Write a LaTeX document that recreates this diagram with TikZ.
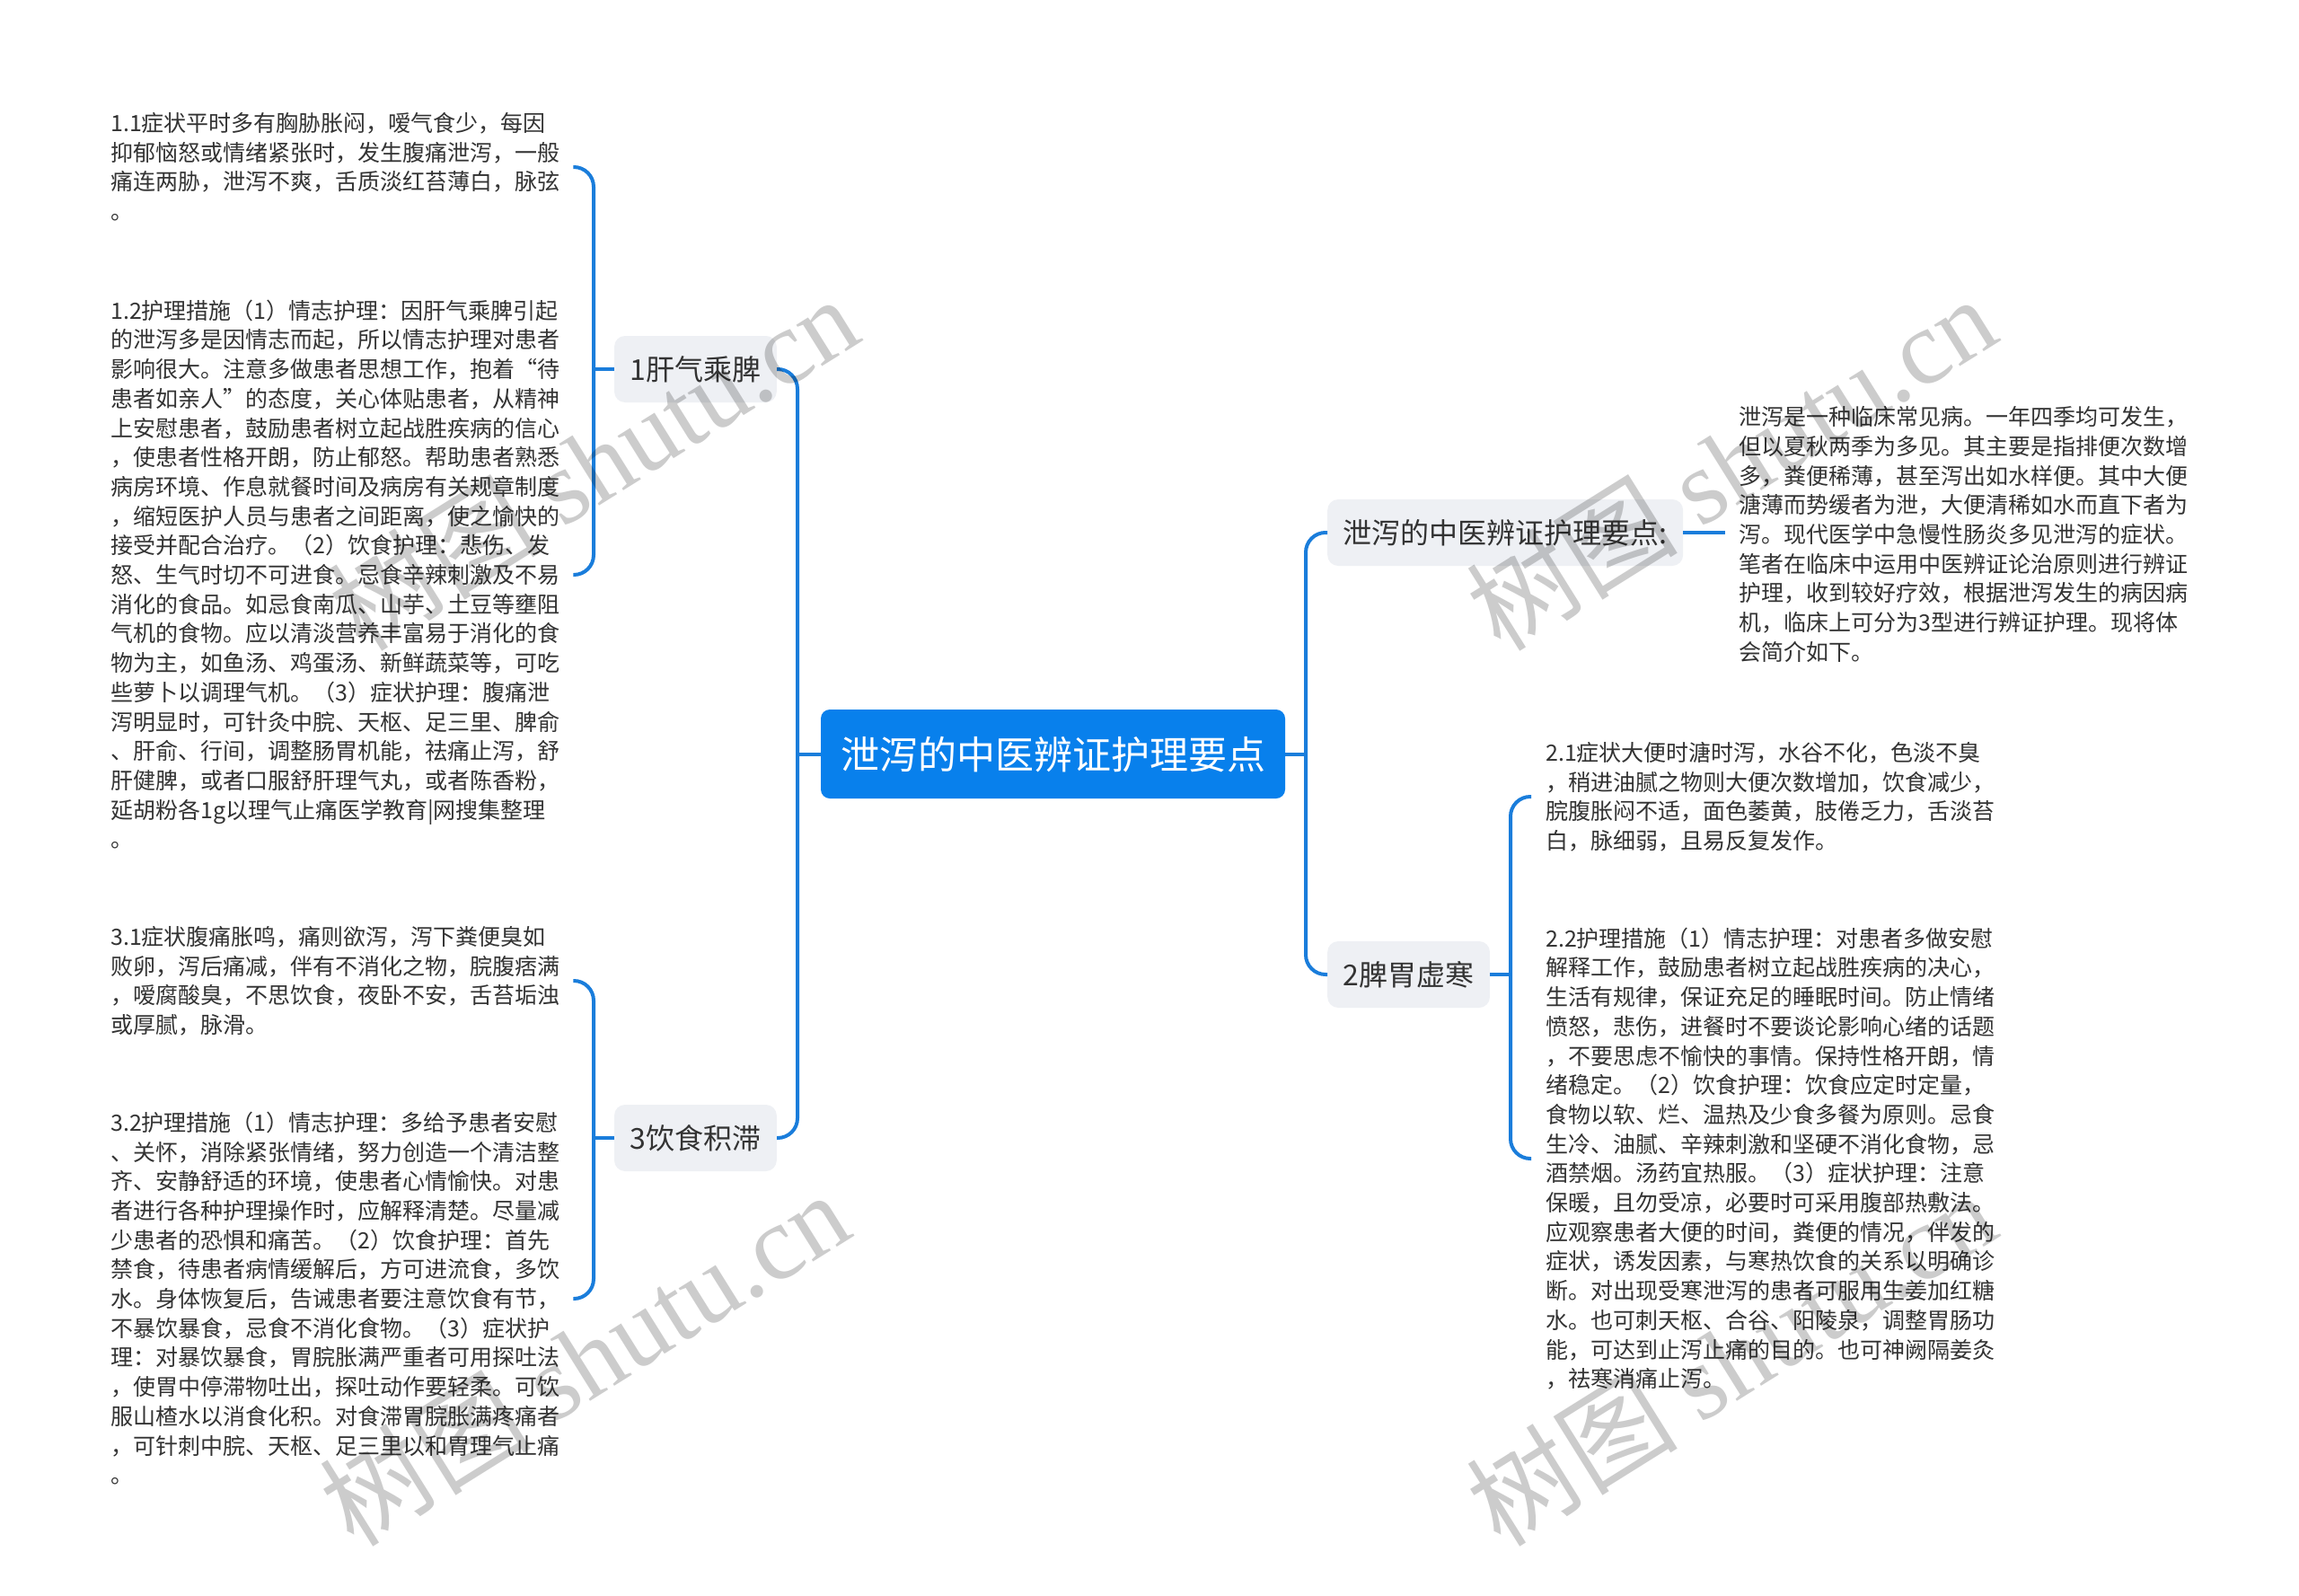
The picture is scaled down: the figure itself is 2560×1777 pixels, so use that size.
\documentclass[tikz,border=0pt]{standalone}
\usepackage{fontspec}
\setmainfont{Noto Sans CJK SC}
\newfontfamily\wmserif{Liberation Serif}
\definecolor{rootblue}{HTML}{0880EC}
\definecolor{linkblue}{HTML}{1A7DDB}
\definecolor{topicfill}{HTML}{EEF0F4}
\definecolor{textgrey}{HTML}{333333}
\newcommand\ls{\rule[-4pt]{0pt}{27pt}}
\begin{document}
\begin{tikzpicture}[x=1pt,y=-1pt,
  conn/.style={draw=linkblue, line width=4pt, rounded corners=22pt},
  rootnode/.style={fill=rootblue, rounded corners=10pt, text=white,
    font=\fontsize{43}{50}\selectfont, minimum width=517pt, minimum height=99pt,
    inner sep=0pt, text height=38pt, text depth=5pt},
  topic/.style={fill=topicfill, rounded corners=12pt, text=textgrey,
    font=\fontsize{32}{38}\selectfont, minimum width=180pt, minimum height=74pt,
    inner xsep=17.5pt, inner ysep=0pt, text height=28pt, text depth=4pt},
  tblock/.style={anchor=west, align=left, inner sep=0pt, text=textgrey,
    font=\fontsize{25}{32.7}\selectfont},
  wm/.style={text=black, text opacity=0.2, inner sep=0pt,
    font=\fontsize{118}{130}\selectfont, rotate=32}
]
\fill[white] (0,0) rectangle (2560,1777);
\useasboundingbox (0,0) rectangle (2560,1777);

% spine coordinates
\coordinate (s1) at (661,411);
\coordinate (s3) at (661,1267);
\coordinate (sL) at (888,840);
\coordinate (sR) at (1454,840);
\coordinate (s2) at (1682,1085);

% main nodes
\node[rootnode] (root) at (1172.5,839.5) {泄泻的中医辨证护理要点};
\node[topic, anchor=east] (t1) at (865,411) {1肝气乘脾};
\node[topic, anchor=east] (t3) at (865,1267) {3饮食积滞};
\node[topic, anchor=west] (tI) at (1478,593) {泄泻的中医辨证护理要点:};
\node[topic, anchor=west] (t2) at (1478,1085) {2脾胃虚寒};

% text blocks
\node[tblock] (b11) at (123,186) {\ls 1.1症状平时多有胸胁胀闷，嗳气食少，每因\\
抑郁恼怒或情绪紧张时，发生腹痛泄泻，一般\\
痛连两胁，泄泻不爽，舌质淡红苔薄白，脉弦\\
\ls 。};

\node[tblock] (b12) at (123,640) {\ls 1.2护理措施（1）情志护理：因肝气乘脾引起\\
的泄泻多是因情志而起，所以情志护理对患者\\
影响很大。注意多做患者思想工作，抱着“待\\
患者如亲人”的态度，关心体贴患者，从精神\\
上安慰患者，鼓励患者树立起战胜疾病的信心\\
，使患者性格开朗，防止郁怒。帮助患者熟悉\\
病房环境、作息就餐时间及病房有关规章制度\\
，缩短医护人员与患者之间距离，使之愉快的\\
接受并配合治疗。（2）饮食护理：悲伤、发\\
怒、生气时切不可进食。忌食辛辣刺激及不易\\
消化的食品。如忌食南瓜、山芋、土豆等壅阻\\
气机的食物。应以清淡营养丰富易于消化的食\\
物为主，如鱼汤、鸡蛋汤、新鲜蔬菜等，可吃\\
些萝卜以调理气机。（3）症状护理：腹痛泄\\
泻明显时，可针灸中脘、天枢、足三里、脾俞\\
、肝俞、行间，调整肠胃机能，祛痛止泻，舒\\
肝健脾，或者口服舒肝理气丸，或者陈香粉，\\
延胡粉各1g以理气止痛医学教育|网搜集整理\\
\ls 。};

\node[tblock] (b31) at (123,1092) {\ls 3.1症状腹痛胀鸣，痛则欲泻，泻下粪便臭如\\
败卵，泻后痛减，伴有不消化之物，脘腹痞满\\
，嗳腐酸臭，不思饮食，夜卧不安，舌苔垢浊\\
\ls 或厚腻，脉滑。};

\node[tblock] (b32) at (123,1446) {\ls 3.2护理措施（1）情志护理：多给予患者安慰\\
、关怀，消除紧张情绪，努力创造一个清洁整\\
齐、安静舒适的环境，使患者心情愉快。对患\\
者进行各种护理操作时，应解释清楚。尽量减\\
少患者的恐惧和痛苦。（2）饮食护理：首先\\
禁食，待患者病情缓解后，方可进流食，多饮\\
水。身体恢复后，告诫患者要注意饮食有节，\\
不暴饮暴食，忌食不消化食物。（3）症状护\\
理：对暴饮暴食，胃脘胀满严重者可用探吐法\\
，使胃中停滞物吐出，探吐动作要轻柔。可饮\\
服山楂水以消食化积。对食滞胃脘胀满疼痛者\\
，可针刺中脘、天枢、足三里以和胃理气止痛\\
\ls 。};

\node[tblock] (bI) at (1936,595) {\ls 泄泻是一种临床常见病。一年四季均可发生，\\
但以夏秋两季为多见。其主要是指排便次数增\\
多，粪便稀薄，甚至泻出如水样便。其中大便\\
溏薄而势缓者为泄，大便清稀如水而直下者为\\
泻。现代医学中急慢性肠炎多见泄泻的症状。\\
笔者在临床中运用中医辨证论治原则进行辨证\\
护理，收到较好疗效，根据泄泻发生的病因病\\
机，临床上可分为3型进行辨证护理。现将体\\
\ls 会简介如下。};

\node[tblock] (b21) at (1721,887) {\ls 2.1症状大便时溏时泻，水谷不化，色淡不臭\\
，稍进油腻之物则大便次数增加，饮食减少，\\
脘腹胀闷不适，面色萎黄，肢倦乏力，舌淡苔\\
\ls 白，脉细弱，且易反复发作。};

\node[tblock] (b22) at (1721,1290) {\ls 2.2护理措施（1）情志护理：对患者多做安慰\\
解释工作，鼓励患者树立起战胜疾病的决心，\\
生活有规律，保证充足的睡眠时间。防止情绪\\
愤怒，悲伤，进餐时不要谈论影响心绪的话题\\
，不要思虑不愉快的事情。保持性格开朗，情\\
绪稳定。（2）饮食护理：饮食应定时定量，\\
食物以软、烂、温热及少食多餐为原则。忌食\\
生冷、油腻、辛辣刺激和坚硬不消化食物，忌\\
酒禁烟。汤药宜热服。（3）症状护理：注意\\
保暖，且勿受凉，必要时可采用腹部热敷法。\\
应观察患者大便的时间，粪便的情况，伴发的\\
症状，诱发因素，与寒热饮食的关系以明确诊\\
断。对出现受寒泄泻的患者可服用生姜加红糖\\
水。也可刺天枢、合谷、阳陵泉，调整胃肠功\\
能，可达到止泻止痛的目的。也可神阙隔姜灸\\
\ls ，祛寒消痛止泻。};

% connectors: root
\draw[conn] (root.west) -- (root.west -| sL);
\draw[conn] (t1.east) -- (t1.east -| sL) -- (t3.east -| sL) -- (t3.east);
\draw[conn] (root.east) -- (root.east -| sR);
\draw[conn] (tI.west) -- (tI.west -| sR) -- (t2.west -| sR) -- (t2.west);
% group 1
\draw[conn] (t1.west) -- (t1.west -| s1);
\draw[conn] ([xshift=15pt]b11.east) -- (b11.east -| s1) -- (b12.east -| s1) -- ([xshift=15pt]b12.east);
% group 3
\draw[conn] (t3.west) -- (t3.west -| s3);
\draw[conn] ([xshift=15pt]b31.east) -- (b31.east -| s3) -- (b32.east -| s3) -- ([xshift=15pt]b32.east);
% intro
\draw[conn] (tI.east) -- ([xshift=-15pt]bI.west |- tI.east);
% group 2
\draw[conn] (t2.east) -- (t2.east -| s2);
\draw[conn] ([xshift=-16pt]b21.west) -- (b21.west -| s2) -- (b22.west -| s2) -- ([xshift=-16pt]b22.west);

% watermarks
\node[wm] (w1) at (660,515) {树图 {\wmserif shutu.cn}};
\node[wm] (w2) at (1927,515) {树图 {\wmserif shutu.cn}};
\node[wm] (w3) at (650,1512) {树图 {\wmserif shutu.cn}};
\node[wm] (w4) at (1927,1512) {树图 {\wmserif shutu.cn}};
\end{tikzpicture}
\end{document}
